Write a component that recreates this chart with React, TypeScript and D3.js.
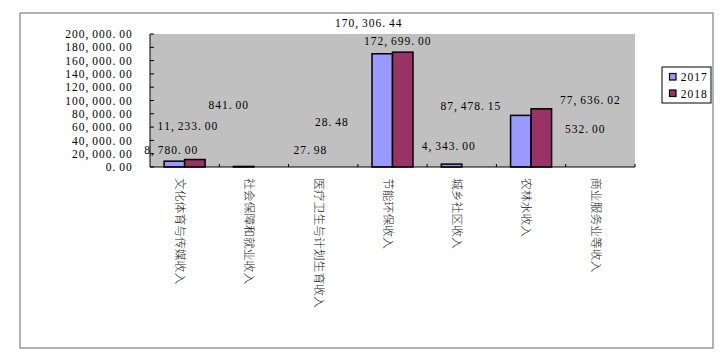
import React from "react";
import * as d3 from "d3";

const categories = [
  "文化体育与传媒收入",
  "社会保障和就业收入",
  "医疗卫生与计划生育收入",
  "节能环保收入",
  "城乡社区收入",
  "农林水收入",
  "商业服务业等收入",
];
const seriesNames = ["2017", "2018"];
const values2017: (number | null)[] = [8780, 841, 27.98, 170306.44, 4343, 77636.02, 532];
const values2018: (number | null)[] = [11233, null, 28.48, 172699, null, 87478.15, null];
const yTickValues = [0, 20000, 40000, 60000, 80000, 100000, 120000, 140000, 160000, 180000, 200000];
const yMax = 200000;

// data labels: which point each label belongs to
const labelCats = [0, 0, 1, 2, 2, 3, 3, 4, 5, 5, 6];
const labelSeries = [0, 1, 0, 0, 1, 0, 1, 0, 1, 0, 0];

// where the source chart placed those labels (category-relative px offset, value-unit height)
const labelDx = [-13.6, 3, -25.4, -13.2, 8.3, -24, 5, -13.3, -60.6, 58.9, -15.4];
const labelAt = [25600, 62100, 93200, 25600, 67700, 216100, 189000, 31600, 91700, 100800, 57600];

const colors = ["#9999FF", "#993366"];
const serifFont = "'Liberation Serif', 'DejaVu Serif', serif";
const cjkFont = "'Noto Sans CJK SC', sans-serif";
const CELL = 6.75;
const NUM_SIZE = 11.5;

// monospaced-cell text (SimSun-like: every char takes the same cell width)
function MonoText({ str, x, y, anchor }: { str: string; x: number; y: number; anchor: "start" | "middle" | "end" }) {
  const total = str.length * CELL;
  const x0 = anchor === "start" ? x : anchor === "middle" ? x - total / 2 : x - total;
  const xs = str.split("").map((_, i) => (x0 + i * CELL + 0.3).toFixed(2)).join(" ");
  return (
    <text x={xs} y={y} dy="0.36em" fontFamily={serifFont} fontSize={NUM_SIZE} fill="#000">
      {str}
    </text>
  );
}

export default function App() {
  const W = 720, H = 355;
  const plot = { left: 150, right: 635, top: 34, bottom: 167 };
  const x = d3.scaleBand<string>().domain(categories).range([plot.left, plot.right]);
  const y = d3.scaleLinear().domain([0, yMax]).range([plot.bottom, plot.top]);
  const fmt = d3.format(",.2f");
  const barW = 20.5;
  const series = [values2017, values2018];
  const bw = x.bandwidth();

  return (
    <svg width={W} height={H} style={{ position: "absolute", left: 0, top: 0, background: "#fff" }}>
      <rect x={20} y={13} width={693} height={335} fill="#fff" stroke="#808080" strokeWidth={1.2} />
      <rect x={plot.left} y={plot.top} width={plot.right - plot.left} height={plot.bottom - plot.top} fill="#C0C0C0" />
      {/* y ticks & labels */}
      {yTickValues.map((t) => (
        <g key={t}>
          <line x1={plot.left} x2={plot.left + 4} y1={y(t)} y2={y(t)} stroke="#000" strokeWidth={1} />
          <MonoText str={fmt(t)} x={132.5} y={y(t)} anchor="end" />
        </g>
      ))}
      {/* bars */}
      {series.map((vals, si) =>
        vals.map((v, ci) => {
          if (v == null) return null;
          const cx = (x(categories[ci]) as number) + bw / 2;
          const bx = si === 0 ? cx - barW : cx;
          const yTop = y(v);
          if (plot.bottom - yTop < 0.5) return null;
          return (
            <rect key={`${si}-${ci}`} x={bx} y={yTop} width={barW} height={plot.bottom - yTop}
              fill={colors[si]} stroke="#000" strokeWidth={1.5} />
          );
        })
      )}
      {/* axes */}
      <line x1={plot.left} x2={plot.left} y1={plot.top} y2={plot.bottom} stroke="#000" strokeWidth={1} />
      <line x1={plot.left} x2={plot.right} y1={plot.bottom} y2={plot.bottom} stroke="#000" strokeWidth={1} />
      {categories.map((c) => (
        <line key={c} x1={(x(c) as number) + bw} x2={(x(c) as number) + bw} y1={plot.bottom} y2={plot.bottom - 3} stroke="#000" strokeWidth={1} />
      ))}
      {/* category labels */}
      {categories.map((c) => {
        const cx = (x(c) as number) + bw / 2 - 4.5;
        return (
          <text key={c} transform={`translate(${cx},178) rotate(90)`} dy="0.35em" fontFamily={cjkFont}
            fontSize={11.8} fontWeight={300} fill="#222">
            {c}
          </text>
        );
      })}
      {/* data labels */}
      {labelCats.map((ci, k) => {
        const v = series[labelSeries[k]][ci] as number;
        const cx = (x(categories[ci]) as number) + bw / 2 + labelDx[k];
        return <MonoText key={k} str={fmt(v)} x={cx} y={y(labelAt[k])} anchor="middle" />;
      })}
      {/* legend */}
      <rect x={662} y={67} width={49} height={36} fill="#fff" stroke="#000" strokeWidth={1} />
      {seriesNames.map((s, i) => (
        <g key={s}>
          <rect x={669.5} y={73.5 + i * 16.5} width={6.5} height={6.5} fill={colors[i]} stroke="#000" strokeWidth={1.2} />
          <MonoText str={s} x={680.5} y={77 + i * 16.5} anchor="start" />
        </g>
      ))}
    </svg>
  );
}
